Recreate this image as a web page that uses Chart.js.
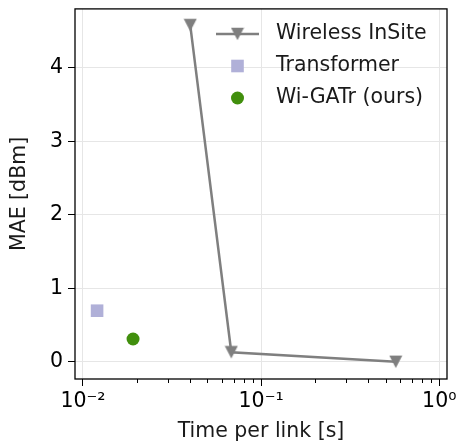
<!DOCTYPE html>
<html>
<head>
<meta charset="utf-8">
<script src="https://cdn.jsdelivr.net/npm/chart.js@4.4.1/dist/chart.umd.min.js"></script>
<style>
  html, body { margin: 0; padding: 0; background: #fff; }
  #wrap { width: 456px; height: 444px; }
</style>
</head>
<body>
<div id="wrap"><canvas id="grafico" width="456" height="444"></canvas></div>
<script>
// --- DATOS ---
const seriesNames = ['Wireless InSite', 'Transformer', 'Wi-GATr (ours)'];
const insiteTime = [0.040, 0.068, 0.57];
const insiteMae = [4.58, 0.13, 0.0];
const transformerTime = [0.012];
const transformerMae = [0.695];
const wigatrTime = [0.0191];
const wigatrMae = [0.31];
const xTickValues = [0.01, 0.1, 1];
const xTickLabels = ['10⁻²', '10⁻¹', '10⁰'];
const yTickValues = [0, 1, 2, 3, 4];

// --- ESTILO ---
const GRIS = '#7f7f7f';
const LAVANDA = '#b0b0d8';
const VERDE = '#418f0d';
const FUENTE = 'DejaVu Sans';
const TAM = 20.5;

Chart.defaults.font.family = FUENTE;
Chart.defaults.color = '#000';

// triangulo hacia abajo centrado en su caja (como el marcador 'v')
function trianguloAbajo(color) {
    const c = document.createElement('canvas');
    c.width = 14; c.height = 14;
    const g = c.getContext('2d');
    g.fillStyle = color;
    g.beginPath();
    g.moveTo(0.5, 0.8);
    g.lineTo(13.5, 0.8);
    g.lineTo(7, 13.2);
    g.closePath();
    g.fill();
    return c;
}
const triangulo = trianguloAbajo(GRIS);

const pares = (xs, ys) => xs.map((x, i) => ({ x: x, y: ys[i] }));

// marco completo, ticks menores y leyenda dentro del area
const extras = {
    id: 'extras',
    afterDatasetsDraw(chart) {
        const ctx = chart.ctx;
        const x0 = 216, x1 = 259, xm = 237.5, xt = 276;
        const filas = [34, 66, 98];
        ctx.save();
        // Wireless InSite
        ctx.strokeStyle = GRIS;
        ctx.lineWidth = 2.5;
        ctx.beginPath();
        ctx.moveTo(x0, filas[0]);
        ctx.lineTo(x1, filas[0]);
        ctx.stroke();
        ctx.drawImage(triangulo, xm - 7, filas[0] - 7);
        // Transformer
        ctx.fillStyle = LAVANDA;
        ctx.fillRect(xm - 6.3, filas[1] - 6.3, 12.6, 12.6);
        // Wi-GATr
        ctx.fillStyle = VERDE;
        ctx.beginPath();
        ctx.arc(xm, filas[2], 6.5, 0, Math.PI * 2);
        ctx.fill();
        // textos
        ctx.fillStyle = '#1a1a1a';
        ctx.font = TAM + 'px "' + FUENTE + '"';
        ctx.textBaseline = 'middle';
        ctx.textAlign = 'left';
        seriesNames.forEach((n, i) => ctx.fillText(n, xt, filas[i]));
        ctx.restore();
    },
    afterDraw(chart) {
        const ctx = chart.ctx;
        const a = chart.chartArea;
        const xs = chart.scales.x;
        ctx.save();
        ctx.strokeStyle = '#000';
        ctx.lineWidth = 1;
        for (let e = -3; e <= 0; e++) {
            for (let k = 2; k <= 9; k++) {
                const v = k * Math.pow(10, e);
                if (v < xs.min || v > xs.max) continue;
                const px = Math.round(xs.getPixelForValue(v)) + 0.5;
                ctx.beginPath();
                ctx.moveTo(px, a.bottom);
                ctx.lineTo(px, a.bottom + 4);
                ctx.stroke();
            }
        }
        ctx.lineWidth = 1.3;
        ctx.strokeRect(a.left, a.top, a.right - a.left, a.bottom - a.top);
        ctx.restore();
    }
};

const ctx = document.getElementById('grafico').getContext('2d');
const grafico = new Chart(ctx, {
    type: 'scatter',
    data: {
        datasets: [
            {
                label: seriesNames[0],
                data: pares(insiteTime, insiteMae),
                showLine: true,
                borderColor: GRIS,
                borderWidth: 2.5,
                backgroundColor: GRIS,
                pointStyle: triangulo,
                pointRadius: 7,
                pointBorderWidth: 0
            },
            {
                label: seriesNames[1],
                data: pares(transformerTime, transformerMae),
                backgroundColor: LAVANDA,
                borderColor: LAVANDA,
                pointStyle: 'rect',
                pointRadius: 8.9,
                pointBorderWidth: 0
            },
            {
                label: seriesNames[2],
                data: pares(wigatrTime, wigatrMae),
                backgroundColor: VERDE,
                borderColor: VERDE,
                pointStyle: 'circle',
                pointRadius: 6.5,
                pointBorderWidth: 0
            }
        ]
    },
    options: {
        responsive: false,
        animation: false,
        layout: { padding: { top: 7, right: 9, left: 0, bottom: 0 } },
        plugins: {
            legend: { display: false },
            tooltip: { enabled: false }
        },
        scales: {
            x: {
                type: 'logarithmic',
                min: 0.00902,
                max: 1.105,
                afterBuildTicks: (s) => { s.ticks = xTickValues.map(v => ({ value: v, major: true })); },
                afterFit: (s) => { s.height = 65; s.paddingLeft = 0; s.paddingRight = 0; },
                ticks: {
                    font: { size: TAM },
                    padding: 3,
                    maxRotation: 0,
                    autoSkip: false,
                    callback: (v) => xTickLabels[xTickValues.indexOf(v)] ?? ''
                },
                grid: { color: '#e6e6e6', tickColor: '#000', tickLength: 7, lineWidth: 1 },
                border: { display: false },
                title: {
                    display: true,
                    text: 'Time per link [s]',
                    font: { size: TAM, lineHeight: 1.2 },
                    color: '#1a1a1a',
                    padding: { top: 0, bottom: 0 }
                }
            },
            y: {
                min: -0.234,
                max: 4.8,
                afterBuildTicks: (s) => { s.ticks = yTickValues.map(v => ({ value: v })); },
                afterFit: (s) => { s.width = 75; s.paddingTop = 0; s.paddingBottom = 0; },
                ticks: { font: { size: TAM }, padding: 5 },
                grid: { color: '#e6e6e6', tickColor: '#000', tickLength: 7, lineWidth: 1 },
                border: { display: false },
                title: {
                    display: true,
                    text: 'MAE [dBm]',
                    font: { size: TAM, lineHeight: 1.2 },
                    color: '#1a1a1a',
                    padding: { top: 7.7, bottom: 0 }
                }
            }
        }
    },
    plugins: [extras]
});
</script>
</body>
</html>
